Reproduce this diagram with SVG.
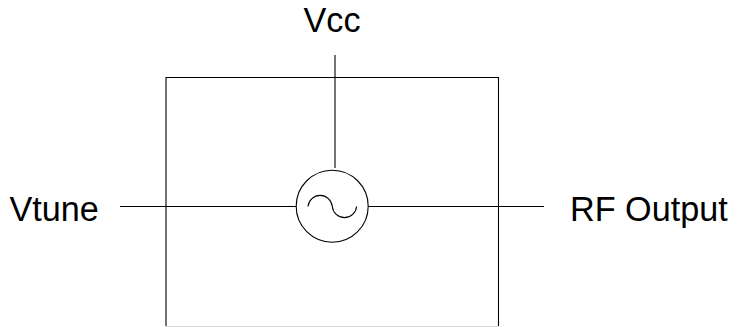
<svg xmlns="http://www.w3.org/2000/svg" width="743" height="327" viewBox="0 0 743 327">
<style>
text{font-family:"Liberation Sans",Arial,sans-serif;font-size:34.200px;fill:#000}
.l{fill:none;stroke:#000;stroke-width:1.1}
</style>
<rect width="743" height="327" fill="#fff"/>
<g id="module">
<path class="l" d="M166 326V77.500H498.500V326"/>
<path fill="none" stroke="#d4d4d4" stroke-width="1" d="M166 326.500H498.500"/>
</g>
<g id="connectors">
<path class="l" d="M335 55V168M120 206.500H296M368 206.500H544"/>
</g>
<g id="oscillator">
<circle class="l" cx="332.200" cy="206.200" r="36"/>
<path class="l" d="M308 206.500A12.200 12.200 0 0 1 332.300 206.500A12.200 12.200 0 0 0 356.600 206.500"/>
</g>
<g id="vcc"><text x="303.500" y="32">Vcc</text></g>
<g id="vtune"><text x="9.500" y="220.500">Vtune</text></g>
<g id="rf-output"><text x="570" y="220.500">RF Output</text></g>
</svg>
